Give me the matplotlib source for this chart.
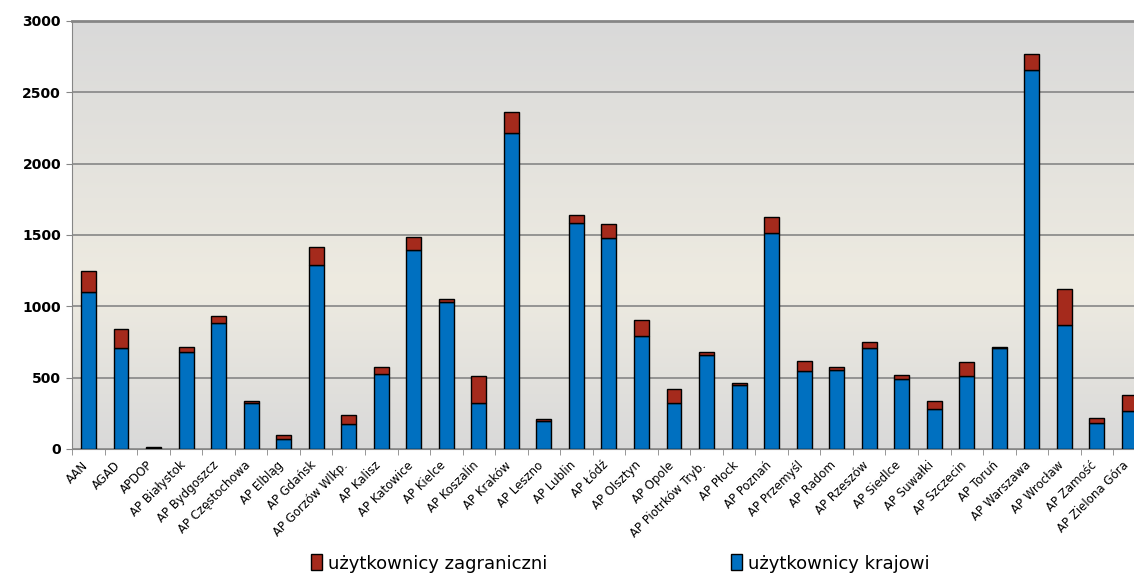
import numpy as np
import matplotlib
matplotlib.use('Agg')
import matplotlib.pyplot as plt
import matplotlib.transforms as mtransforms
from matplotlib.colors import LinearSegmentedColormap

archiwa = ['AAN', 'AGAD', 'APDOP', 'AP Białystok', 'AP Bydgoszcz', 'AP Częstochowa',
           'AP Elbląg', 'AP Gdańsk', 'AP Gorzów Wlkp.', 'AP Kalisz', 'AP Katowice',
           'AP Kielce', 'AP Koszalin', 'AP Kraków', 'AP Leszno', 'AP Lublin', 'AP Łódź',
           'AP Olsztyn', 'AP Opole', 'AP Piotrków Tryb.', 'AP Płock', 'AP Poznań',
           'AP Przemyśl', 'AP Radom', 'AP Rzeszów', 'AP Siedlce', 'AP Suwałki',
           'AP Szczecin', 'AP Toruń', 'AP Warszawa', 'AP Wrocław', 'AP Zamość',
           'AP Zielona Góra']

krajowi = [1100, 706, 10, 678, 885, 320, 68, 1288, 173, 524, 1395, 1028, 320, 2213,
           198, 1582, 1477, 792, 320, 657, 446, 1512, 545, 554, 706, 489, 283, 510,
           706, 2654, 867, 180, 266]

zagraniczni = [145, 133, 2, 35, 45, 16, 28, 126, 65, 49, 89, 23, 190, 147, 15, 56,
               98, 110, 98, 21, 14, 112, 70, 19, 42, 28, 51, 98, 7, 115, 252, 35, 110]

niebieski = '#0070c0'
czerwony = '#a52a1c'

fig = plt.figure(figsize=(11.34, 5.83), dpi=100)
# axes runs past right edge of the image, like in the original
ax = fig.add_axes([72.2 / 1134, (583 - 449) / 583, 1073.5 / 1134, 428 / 583])

x = np.arange(len(archiwa))
ax.set_xlim(-0.5, len(archiwa) - 0.5)
ax.set_ylim(0, 3000)

# gradient background
cmap = LinearSegmentedColormap.from_list('tlo', [(0, '#d9d9d9'), (0.38, '#eeebe1'), (1, '#d9d9d9')])
grad = np.linspace(0, 1, 256).reshape(-1, 1)
ax.imshow(grad, cmap=cmap, aspect='auto', origin='lower',
          extent=[-0.5, len(archiwa) - 0.5, 0, 3000], zorder=0)

ax.yaxis.grid(True, color='#868686', linewidth=1.2, zorder=1)
ax.set_axisbelow(False)

b1 = ax.bar(x, krajowi, width=0.46, color=niebieski, edgecolor='black', linewidth=1, zorder=3,
            label='użytkownicy krajowi')
b2 = ax.bar(x, zagraniczni, width=0.46, bottom=krajowi, color=czerwony, edgecolor='black',
            linewidth=1, zorder=3, label='użytkownicy zagraniczni')

ax.set_yticks(np.arange(0, 3001, 500))
ax.set_yticklabels([str(v) for v in range(0, 3001, 500)], fontsize=10, fontweight='bold')
ax.set_xticks(x)
ax.set_xticklabels(archiwa, rotation=45, ha='right', rotation_mode='anchor', fontsize=8.5)
ax.set_xticks(np.arange(-0.5, len(archiwa), 1), minor=True)
ax.tick_params(axis='x', which='major', length=0, pad=7)
ax.tick_params(axis='x', which='minor', length=4, color='#868686')
ax.tick_params(axis='y', length=4, color='#868686', pad=4)

# nudge the category labels a little to the left
przesun = mtransforms.ScaledTranslation(-7 / 100, 0, fig.dpi_scale_trans)
for lab in ax.get_xticklabels():
    lab.set_transform(lab.get_transform() + przesun)

for s in ['top', 'right']:
    ax.spines[s].set_visible(False)
ax.spines['left'].set_color('#868686')
ax.spines['bottom'].set_color('#868686')
ax.axhline(3000, color='#868686', linewidth=2, zorder=2, clip_on=False)

fig.legend([b2, b1], ['użytkownicy zagraniczni', 'użytkownicy krajowi'], loc='lower center',
           bbox_to_anchor=(0.547, -0.01), ncol=2, frameon=False, fontsize=13,
           handlelength=0.6, handleheight=1.0, handletextpad=0.3, columnspacing=10.2)

fig.savefig('out.png', dpi=100)
